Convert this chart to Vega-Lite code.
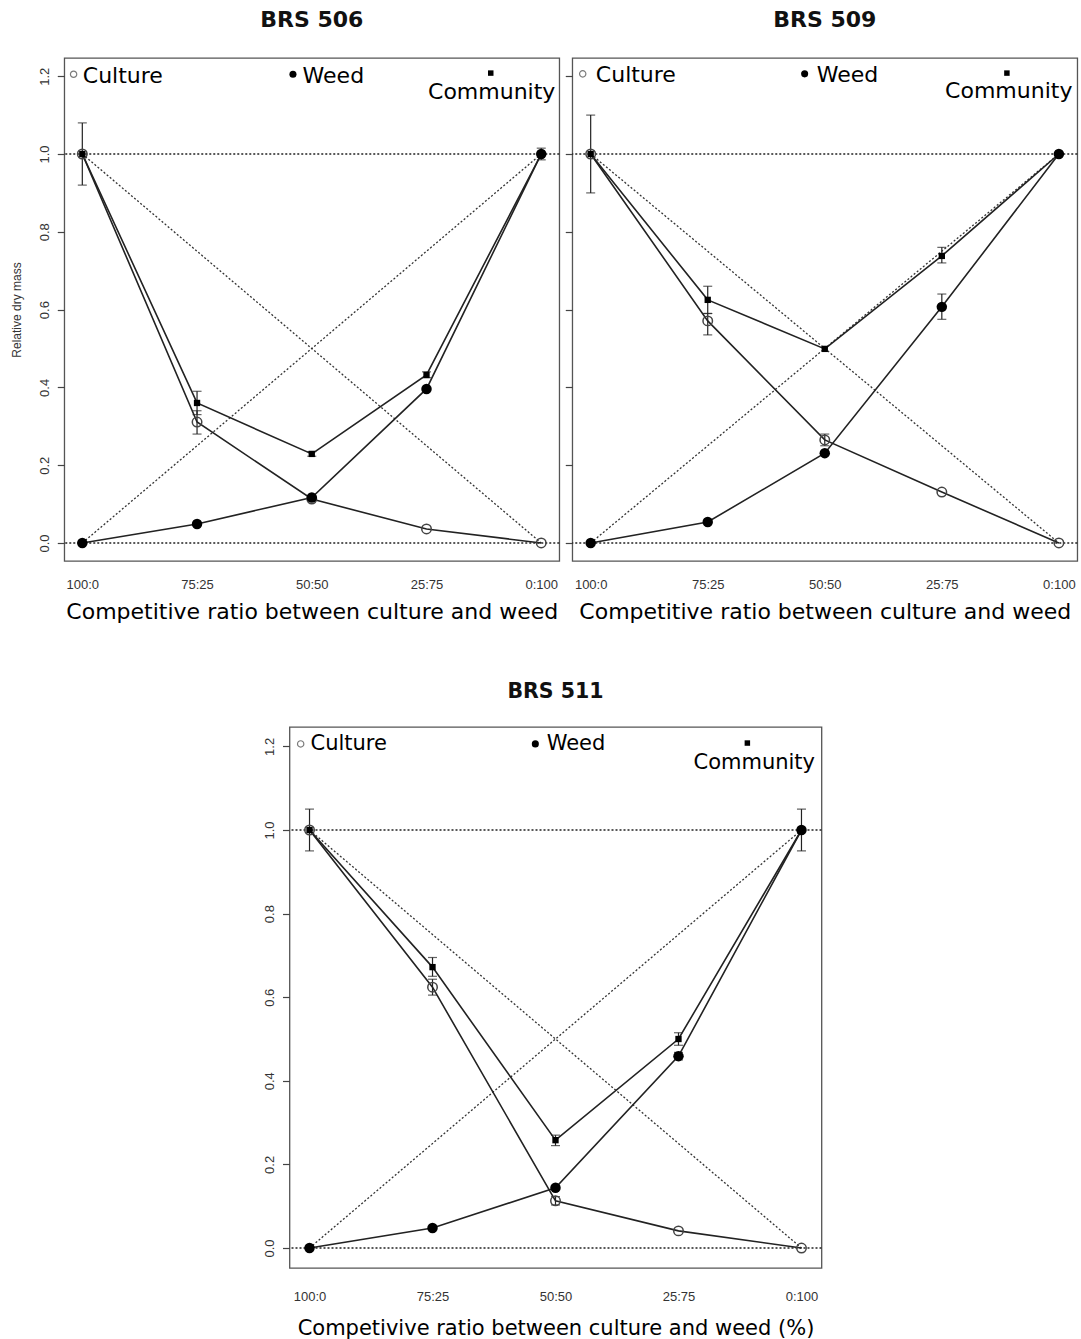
{
"$schema":"https://vega.github.io/schema/vega-lite/v6.json",
"background":"white",
"padding":{"left":9,"top":8,"right":2,"bottom":2},
"config":{
 "view":{"stroke":"#555","strokeWidth":1.3},
 "font":"DejaVu Sans",
 "title":{"font":"DejaVu Sans","fontSize":22,"fontWeight":"bold","color":"#111","baseline":"alphabetic","offset":26,"anchor":"middle"},
 "axisX":{"ticks":false,"domain":false,"grid":false,"labelPadding":17,"labelFont":"Liberation Sans","labelFontSize":13,"labelColor":"#333","labelFlush":false,"labelOverlap":false,"titleFont":"DejaVu Sans","titleFontSize":22,"titleFontWeight":"normal","titleColor":"#000","titlePadding":10},
 "axisY":{"tickSize":7,"tickColor":"#444","tickWidth":1.2,"domain":false,"grid":false,"labelAngle":270,"labelAlign":"center","labelBaseline":"bottom","labelPadding":6,"labelFont":"Liberation Sans","labelFontSize":13,"labelColor":"#333","labelFlush":false,"labelOverlap":false,"titleFont":"Liberation Sans","titleFontSize":12,"titleFontWeight":"normal","titleColor":"#333","titlePadding":15}
},
"datasets":{
 "ref":[{"culture":100,"v":1,"culture_end":0,"v_end":0},{"culture":100,"v":0,"culture_end":0,"v_end":1}],
 "pts":[
  {"panel":"BRS 506","series":"Culture","culture":100,"v":1.0},
  {"panel":"BRS 506","series":"Culture","culture":75,"v":0.311},
  {"panel":"BRS 506","series":"Culture","culture":50,"v":0.113},
  {"panel":"BRS 506","series":"Culture","culture":25,"v":0.036},
  {"panel":"BRS 506","series":"Culture","culture":0,"v":0.0},
  {"panel":"BRS 506","series":"Weed","culture":100,"v":0.0},
  {"panel":"BRS 506","series":"Weed","culture":75,"v":0.049},
  {"panel":"BRS 506","series":"Weed","culture":50,"v":0.117},
  {"panel":"BRS 506","series":"Weed","culture":25,"v":0.396},
  {"panel":"BRS 506","series":"Weed","culture":0,"v":1.0},
  {"panel":"BRS 506","series":"Community","culture":100,"v":1.0},
  {"panel":"BRS 506","series":"Community","culture":75,"v":0.36},
  {"panel":"BRS 506","series":"Community","culture":50,"v":0.229},
  {"panel":"BRS 506","series":"Community","culture":25,"v":0.432},
  {"panel":"BRS 506","series":"Community","culture":0,"v":1.0},
  {"panel":"BRS 509","series":"Culture","culture":100,"v":1.0},
  {"panel":"BRS 509","series":"Culture","culture":75,"v":0.571},
  {"panel":"BRS 509","series":"Culture","culture":50,"v":0.265},
  {"panel":"BRS 509","series":"Culture","culture":25,"v":0.131},
  {"panel":"BRS 509","series":"Culture","culture":0,"v":0.0},
  {"panel":"BRS 509","series":"Weed","culture":100,"v":0.0},
  {"panel":"BRS 509","series":"Weed","culture":75,"v":0.054},
  {"panel":"BRS 509","series":"Weed","culture":50,"v":0.231},
  {"panel":"BRS 509","series":"Weed","culture":25,"v":0.607},
  {"panel":"BRS 509","series":"Weed","culture":0,"v":1.0},
  {"panel":"BRS 509","series":"Community","culture":100,"v":1.0},
  {"panel":"BRS 509","series":"Community","culture":75,"v":0.625},
  {"panel":"BRS 509","series":"Community","culture":50,"v":0.499},
  {"panel":"BRS 509","series":"Community","culture":25,"v":0.738},
  {"panel":"BRS 509","series":"Community","culture":0,"v":1.0},
  {"panel":"BRS 511","series":"Culture","culture":100,"v":1.0},
  {"panel":"BRS 511","series":"Culture","culture":75,"v":0.624},
  {"panel":"BRS 511","series":"Culture","culture":50,"v":0.113},
  {"panel":"BRS 511","series":"Culture","culture":25,"v":0.041},
  {"panel":"BRS 511","series":"Culture","culture":0,"v":0.0},
  {"panel":"BRS 511","series":"Weed","culture":100,"v":0.0},
  {"panel":"BRS 511","series":"Weed","culture":75,"v":0.048},
  {"panel":"BRS 511","series":"Weed","culture":50,"v":0.144},
  {"panel":"BRS 511","series":"Weed","culture":25,"v":0.459},
  {"panel":"BRS 511","series":"Weed","culture":0,"v":1.0},
  {"panel":"BRS 511","series":"Community","culture":100,"v":1.0},
  {"panel":"BRS 511","series":"Community","culture":75,"v":0.672},
  {"panel":"BRS 511","series":"Community","culture":50,"v":0.258},
  {"panel":"BRS 511","series":"Community","culture":25,"v":0.5},
  {"panel":"BRS 511","series":"Community","culture":0,"v":1.0}
 ],
 "err":[
  {"panel":"BRS 506","series":"Culture","culture":100,"lo":0.92,"hi":1.08},
  {"panel":"BRS 506","series":"Culture","culture":75,"lo":0.28,"hi":0.34},
  {"panel":"BRS 506","series":"Community","culture":75,"lo":0.33,"hi":0.39},
  {"panel":"BRS 506","series":"Community","culture":50,"lo":0.223,"hi":0.235},
  {"panel":"BRS 506","series":"Community","culture":25,"lo":0.425,"hi":0.44},
  {"panel":"BRS 506","series":"Weed","culture":0,"lo":0.985,"hi":1.015},
  {"panel":"BRS 509","series":"Culture","culture":100,"lo":0.9,"hi":1.1},
  {"panel":"BRS 509","series":"Culture","culture":75,"lo":0.535,"hi":0.59},
  {"panel":"BRS 509","series":"Community","culture":75,"lo":0.59,"hi":0.66},
  {"panel":"BRS 509","series":"Culture","culture":50,"lo":0.25,"hi":0.28},
  {"panel":"BRS 509","series":"Weed","culture":25,"lo":0.575,"hi":0.64},
  {"panel":"BRS 509","series":"Community","culture":25,"lo":0.72,"hi":0.76},
  {"panel":"BRS 511","series":"Culture","culture":100,"lo":0.95,"hi":1.05},
  {"panel":"BRS 511","series":"Weed","culture":0,"lo":0.95,"hi":1.05},
  {"panel":"BRS 511","series":"Community","culture":75,"lo":0.65,"hi":0.695},
  {"panel":"BRS 511","series":"Culture","culture":75,"lo":0.605,"hi":0.643},
  {"panel":"BRS 511","series":"Community","culture":50,"lo":0.245,"hi":0.27},
  {"panel":"BRS 511","series":"Culture","culture":50,"lo":0.103,"hi":0.123},
  {"panel":"BRS 511","series":"Community","culture":25,"lo":0.485,"hi":0.515},
  {"panel":"BRS 511","series":"Weed","culture":25,"lo":0.45,"hi":0.468}
 ]
},
"spacing":57,
"center":true,
"vconcat":[
 {"hconcat":[
  {"title":{"text":"BRS 506"},"width":495,"height":503,
   "layer":[
    {"data":{"values":[{"v":0},{"v":1}]},"mark":{"type":"rule","strokeDash":[2,2],"strokeWidth":1.6,"color":"#222"},
     "encoding":{"y":{"field":"v","type":"quantitative","scale":{"domain":[-0.0463,1.2468],"nice":false,"zero":false},"axis":{"values":[0,0.2,0.4,0.6,0.8,1,1.2],"format":".1f","title":"Relative dry mass"}}}},
    {"data":{"name":"ref"},"mark":{"type":"rule","strokeDash":[2,2],"strokeWidth":1.3,"color":"#333"},
     "encoding":{"x":{"field":"culture","type":"quantitative","scale":{"domain":[-3.93,103.93],"reverse":true,"nice":false,"zero":false},"axis":{"values":[100,75,50,25,0],"labelExpr":"datum.value + ':' + (100 - datum.value)","title":"Competitive ratio between culture and weed"}},"x2":{"field":"culture_end"},
      "y":{"field":"v","type":"quantitative","scale":{"domain":[-0.0463,1.2468],"nice":false,"zero":false},"axis":{"values":[0,0.2,0.4,0.6,0.8,1,1.2],"format":".1f","title":"Relative dry mass"}},"y2":{"field":"v_end"}}},
    {"data":{"name":"pts"},"transform":[{"filter":"datum.panel === 'BRS 506'"}],"mark":{"type":"line","strokeWidth":1.6,"color":"#222"},
     "encoding":{"x":{"field":"culture","type":"quantitative","scale":{"domain":[-3.93,103.93],"reverse":true,"nice":false,"zero":false},"axis":{"values":[100,75,50,25,0],"labelExpr":"datum.value + ':' + (100 - datum.value)","title":"Competitive ratio between culture and weed"}},
      "y":{"field":"v","type":"quantitative","scale":{"domain":[-0.0463,1.2468],"nice":false,"zero":false},"axis":{"values":[0,0.2,0.4,0.6,0.8,1,1.2],"format":".1f","title":"Relative dry mass"}},"detail":{"field":"series"}}},
    {"data":{"name":"err"},"transform":[{"filter":"datum.panel === 'BRS 506'"}],"mark":{"type":"errorbar","color":"#222","thickness":1.2,"ticks":true,"size":9},
     "encoding":{"x":{"field":"culture","type":"quantitative","scale":{"domain":[-3.93,103.93],"reverse":true,"nice":false,"zero":false},"axis":{"values":[100,75,50,25,0],"labelExpr":"datum.value + ':' + (100 - datum.value)","title":"Competitive ratio between culture and weed"}},
      "y":{"field":"lo","type":"quantitative","scale":{"domain":[-0.0463,1.2468],"nice":false,"zero":false},"axis":{"values":[0,0.2,0.4,0.6,0.8,1,1.2],"format":".1f","title":"Relative dry mass"}},"y2":{"field":"hi"}}},
    {"data":{"name":"pts"},"transform":[{"filter":"datum.panel === 'BRS 506' && datum.series === 'Culture'"}],"mark":{"type":"point","shape":"circle","filled":false,"size":90,"strokeWidth":1.5,"color":"#444","opacity":1},
     "encoding":{"x":{"field":"culture","type":"quantitative","scale":{"domain":[-3.93,103.93],"reverse":true,"nice":false,"zero":false},"axis":{"values":[100,75,50,25,0],"labelExpr":"datum.value + ':' + (100 - datum.value)","title":"Competitive ratio between culture and weed"}},
      "y":{"field":"v","type":"quantitative","scale":{"domain":[-0.0463,1.2468],"nice":false,"zero":false},"axis":{"values":[0,0.2,0.4,0.6,0.8,1,1.2],"format":".1f","title":"Relative dry mass"}}}},
    {"data":{"name":"pts"},"transform":[{"filter":"datum.panel === 'BRS 506' && datum.series === 'Weed'"}],"mark":{"type":"point","shape":"circle","filled":true,"size":110,"color":"#000","opacity":1},
     "encoding":{"x":{"field":"culture","type":"quantitative","scale":{"domain":[-3.93,103.93],"reverse":true,"nice":false,"zero":false},"axis":{"values":[100,75,50,25,0],"labelExpr":"datum.value + ':' + (100 - datum.value)","title":"Competitive ratio between culture and weed"}},
      "y":{"field":"v","type":"quantitative","scale":{"domain":[-0.0463,1.2468],"nice":false,"zero":false},"axis":{"values":[0,0.2,0.4,0.6,0.8,1,1.2],"format":".1f","title":"Relative dry mass"}}}},
    {"data":{"name":"pts"},"transform":[{"filter":"datum.panel === 'BRS 506' && datum.series === 'Community'"}],"mark":{"type":"point","shape":"square","filled":true,"size":40,"color":"#000","opacity":1},
     "encoding":{"x":{"field":"culture","type":"quantitative","scale":{"domain":[-3.93,103.93],"reverse":true,"nice":false,"zero":false},"axis":{"values":[100,75,50,25,0],"labelExpr":"datum.value + ':' + (100 - datum.value)","title":"Competitive ratio between culture and weed"}},
      "y":{"field":"v","type":"quantitative","scale":{"domain":[-0.0463,1.2468],"nice":false,"zero":false},"axis":{"values":[0,0.2,0.4,0.6,0.8,1,1.2],"format":".1f","title":"Relative dry mass"}}}},
    {"data":{"values":[{}]},"mark":{"type":"point","shape":"circle","filled":false,"size":40,"strokeWidth":1.2,"color":"#444"},
     "encoding":{"x":{"datum":101.9,"type":"quantitative"},"y":{"datum":1.205,"type":"quantitative"}}},
    {"data":{"values":[{}]},"mark":{"type":"point","shape":"circle","filled":true,"size":50,"color":"#000","opacity":1},
     "encoding":{"x":{"datum":54.1,"type":"quantitative"},"y":{"datum":1.205,"type":"quantitative"}}},
    {"data":{"values":[{}]},"mark":{"type":"point","shape":"square","filled":true,"size":30,"color":"#000","opacity":1},
     "encoding":{"x":{"datum":11,"type":"quantitative"},"y":{"datum":1.208,"type":"quantitative"}}},
    {"data":{"values":[{}]},"mark":{"type":"text","text":"Culture","align":"left","baseline":"middle","fontSize":22,"font":"DejaVu Sans","color":"#000"},
     "encoding":{"x":{"datum":99.9,"type":"quantitative"},"y":{"datum":1.2,"type":"quantitative"}}},
    {"data":{"values":[{}]},"mark":{"type":"text","text":"Weed","align":"left","baseline":"middle","fontSize":22,"font":"DejaVu Sans","color":"#000"},
     "encoding":{"x":{"datum":52,"type":"quantitative"},"y":{"datum":1.2,"type":"quantitative"}}},
    {"data":{"values":[{}]},"mark":{"type":"text","text":"Community","align":"center","baseline":"middle","fontSize":22,"font":"DejaVu Sans","color":"#000"},
     "encoding":{"x":{"datum":10.8,"type":"quantitative"},"y":{"datum":1.16,"type":"quantitative"}}}
   ]},
  {"title":{"text":"BRS 509"},"width":505,"height":503,
   "layer":[
    {"data":{"values":[{"v":0},{"v":1}]},"mark":{"type":"rule","strokeDash":[2,2],"strokeWidth":1.6,"color":"#222"},
     "encoding":{"y":{"field":"v","type":"quantitative","scale":{"domain":[-0.0463,1.2468],"nice":false,"zero":false},"axis":{"values":[0,0.2,0.4,0.6,0.8,1,1.2],"labels":false,"title":null}}}},
    {"data":{"name":"ref"},"mark":{"type":"rule","strokeDash":[2,2],"strokeWidth":1.3,"color":"#333"},
     "encoding":{"x":{"field":"culture","type":"quantitative","scale":{"domain":[-3.93,103.93],"reverse":true,"nice":false,"zero":false},"axis":{"values":[100,75,50,25,0],"labelExpr":"datum.value + ':' + (100 - datum.value)","title":"Competitive ratio between culture and weed"}},"x2":{"field":"culture_end"},
      "y":{"field":"v","type":"quantitative","scale":{"domain":[-0.0463,1.2468],"nice":false,"zero":false},"axis":{"values":[0,0.2,0.4,0.6,0.8,1,1.2],"labels":false,"title":null}},"y2":{"field":"v_end"}}},
    {"data":{"name":"pts"},"transform":[{"filter":"datum.panel === 'BRS 509'"}],"mark":{"type":"line","strokeWidth":1.6,"color":"#222"},
     "encoding":{"x":{"field":"culture","type":"quantitative","scale":{"domain":[-3.93,103.93],"reverse":true,"nice":false,"zero":false},"axis":{"values":[100,75,50,25,0],"labelExpr":"datum.value + ':' + (100 - datum.value)","title":"Competitive ratio between culture and weed"}},
      "y":{"field":"v","type":"quantitative","scale":{"domain":[-0.0463,1.2468],"nice":false,"zero":false},"axis":{"values":[0,0.2,0.4,0.6,0.8,1,1.2],"labels":false,"title":null}},"detail":{"field":"series"}}},
    {"data":{"name":"err"},"transform":[{"filter":"datum.panel === 'BRS 509'"}],"mark":{"type":"errorbar","color":"#222","thickness":1.2,"ticks":true,"size":9},
     "encoding":{"x":{"field":"culture","type":"quantitative","scale":{"domain":[-3.93,103.93],"reverse":true,"nice":false,"zero":false},"axis":{"values":[100,75,50,25,0],"labelExpr":"datum.value + ':' + (100 - datum.value)","title":"Competitive ratio between culture and weed"}},
      "y":{"field":"lo","type":"quantitative","scale":{"domain":[-0.0463,1.2468],"nice":false,"zero":false},"axis":{"values":[0,0.2,0.4,0.6,0.8,1,1.2],"labels":false,"title":null}},"y2":{"field":"hi"}}},
    {"data":{"name":"pts"},"transform":[{"filter":"datum.panel === 'BRS 509' && datum.series === 'Culture'"}],"mark":{"type":"point","shape":"circle","filled":false,"size":90,"strokeWidth":1.5,"color":"#444","opacity":1},
     "encoding":{"x":{"field":"culture","type":"quantitative","scale":{"domain":[-3.93,103.93],"reverse":true,"nice":false,"zero":false},"axis":{"values":[100,75,50,25,0],"labelExpr":"datum.value + ':' + (100 - datum.value)","title":"Competitive ratio between culture and weed"}},
      "y":{"field":"v","type":"quantitative","scale":{"domain":[-0.0463,1.2468],"nice":false,"zero":false},"axis":{"values":[0,0.2,0.4,0.6,0.8,1,1.2],"labels":false,"title":null}}}},
    {"data":{"name":"pts"},"transform":[{"filter":"datum.panel === 'BRS 509' && datum.series === 'Weed'"}],"mark":{"type":"point","shape":"circle","filled":true,"size":110,"color":"#000","opacity":1},
     "encoding":{"x":{"field":"culture","type":"quantitative","scale":{"domain":[-3.93,103.93],"reverse":true,"nice":false,"zero":false},"axis":{"values":[100,75,50,25,0],"labelExpr":"datum.value + ':' + (100 - datum.value)","title":"Competitive ratio between culture and weed"}},
      "y":{"field":"v","type":"quantitative","scale":{"domain":[-0.0463,1.2468],"nice":false,"zero":false},"axis":{"values":[0,0.2,0.4,0.6,0.8,1,1.2],"labels":false,"title":null}}}},
    {"data":{"name":"pts"},"transform":[{"filter":"datum.panel === 'BRS 509' && datum.series === 'Community'"}],"mark":{"type":"point","shape":"square","filled":true,"size":40,"color":"#000","opacity":1},
     "encoding":{"x":{"field":"culture","type":"quantitative","scale":{"domain":[-3.93,103.93],"reverse":true,"nice":false,"zero":false},"axis":{"values":[100,75,50,25,0],"labelExpr":"datum.value + ':' + (100 - datum.value)","title":"Competitive ratio between culture and weed"}},
      "y":{"field":"v","type":"quantitative","scale":{"domain":[-0.0463,1.2468],"nice":false,"zero":false},"axis":{"values":[0,0.2,0.4,0.6,0.8,1,1.2],"labels":false,"title":null}}}},
    {"data":{"values":[{}]},"mark":{"type":"point","shape":"circle","filled":false,"size":40,"strokeWidth":1.2,"color":"#444"},
     "encoding":{"x":{"datum":101.7,"type":"quantitative"},"y":{"datum":1.206,"type":"quantitative"}}},
    {"data":{"values":[{}]},"mark":{"type":"point","shape":"circle","filled":true,"size":50,"color":"#000","opacity":1},
     "encoding":{"x":{"datum":54.3,"type":"quantitative"},"y":{"datum":1.206,"type":"quantitative"}}},
    {"data":{"values":[{}]},"mark":{"type":"point","shape":"square","filled":true,"size":30,"color":"#000","opacity":1},
     "encoding":{"x":{"datum":11.1,"type":"quantitative"},"y":{"datum":1.208,"type":"quantitative"}}},
    {"data":{"values":[{}]},"mark":{"type":"text","text":"Culture","align":"left","baseline":"middle","fontSize":22,"font":"DejaVu Sans","color":"#000"},
     "encoding":{"x":{"datum":98.9,"type":"quantitative"},"y":{"datum":1.203,"type":"quantitative"}}},
    {"data":{"values":[{}]},"mark":{"type":"text","text":"Weed","align":"left","baseline":"middle","fontSize":22,"font":"DejaVu Sans","color":"#000"},
     "encoding":{"x":{"datum":51.7,"type":"quantitative"},"y":{"datum":1.203,"type":"quantitative"}}},
    {"data":{"values":[{}]},"mark":{"type":"text","text":"Community","align":"center","baseline":"middle","fontSize":22,"font":"DejaVu Sans","color":"#000"},
     "encoding":{"x":{"datum":10.7,"type":"quantitative"},"y":{"datum":1.162,"type":"quantitative"}}}
   ]}
 ],"spacing":2},
 {"hconcat":[
 {"title":{"text":"BRS 511","fontSize":20.5,"offset":25},"width":532,"height":541,
   "layer":[
    {"data":{"values":[{"v":0},{"v":1}]},"mark":{"type":"rule","strokeDash":[2,2],"strokeWidth":1.6,"color":"#222"},
     "encoding":{"y":{"field":"v","type":"quantitative","scale":{"domain":[-0.0478,1.2464],"nice":false,"zero":false},"axis":{"values":[0,0.2,0.4,0.6,0.8,1,1.2],"format":".1f","title":null}}}},
    {"data":{"name":"ref"},"mark":{"type":"rule","strokeDash":[2,2],"strokeWidth":1.3,"color":"#333"},
     "encoding":{"x":{"field":"culture","type":"quantitative","scale":{"domain":[-4.07,104.07],"reverse":true,"nice":false,"zero":false},"axis":{"values":[100,75,50,25,0],"labelExpr":"datum.value + ':' + (100 - datum.value)","title":"Competivive ratio between culture and weed (%)","titleFontSize":21,"labelPadding":22,"titlePadding":14}},"x2":{"field":"culture_end"},
      "y":{"field":"v","type":"quantitative","scale":{"domain":[-0.0478,1.2464],"nice":false,"zero":false},"axis":{"values":[0,0.2,0.4,0.6,0.8,1,1.2],"format":".1f","title":null}},"y2":{"field":"v_end"}}},
    {"data":{"name":"pts"},"transform":[{"filter":"datum.panel === 'BRS 511'"}],"mark":{"type":"line","strokeWidth":1.6,"color":"#222"},
     "encoding":{"x":{"field":"culture","type":"quantitative","scale":{"domain":[-4.07,104.07],"reverse":true,"nice":false,"zero":false},"axis":{"values":[100,75,50,25,0],"labelExpr":"datum.value + ':' + (100 - datum.value)","title":"Competivive ratio between culture and weed (%)","titleFontSize":21,"labelPadding":22,"titlePadding":14}},
      "y":{"field":"v","type":"quantitative","scale":{"domain":[-0.0478,1.2464],"nice":false,"zero":false},"axis":{"values":[0,0.2,0.4,0.6,0.8,1,1.2],"format":".1f","title":null}},"detail":{"field":"series"}}},
    {"data":{"name":"err"},"transform":[{"filter":"datum.panel === 'BRS 511'"}],"mark":{"type":"errorbar","color":"#222","thickness":1.2,"ticks":true,"size":9},
     "encoding":{"x":{"field":"culture","type":"quantitative","scale":{"domain":[-4.07,104.07],"reverse":true,"nice":false,"zero":false},"axis":{"values":[100,75,50,25,0],"labelExpr":"datum.value + ':' + (100 - datum.value)","title":"Competivive ratio between culture and weed (%)","titleFontSize":21,"labelPadding":22,"titlePadding":14}},
      "y":{"field":"lo","type":"quantitative","scale":{"domain":[-0.0478,1.2464],"nice":false,"zero":false},"axis":{"values":[0,0.2,0.4,0.6,0.8,1,1.2],"format":".1f","title":null}},"y2":{"field":"hi"}}},
    {"data":{"name":"pts"},"transform":[{"filter":"datum.panel === 'BRS 511' && datum.series === 'Culture'"}],"mark":{"type":"point","shape":"circle","filled":false,"size":90,"strokeWidth":1.5,"color":"#444","opacity":1},
     "encoding":{"x":{"field":"culture","type":"quantitative","scale":{"domain":[-4.07,104.07],"reverse":true,"nice":false,"zero":false},"axis":{"values":[100,75,50,25,0],"labelExpr":"datum.value + ':' + (100 - datum.value)","title":"Competivive ratio between culture and weed (%)","titleFontSize":21,"labelPadding":22,"titlePadding":14}},
      "y":{"field":"v","type":"quantitative","scale":{"domain":[-0.0478,1.2464],"nice":false,"zero":false},"axis":{"values":[0,0.2,0.4,0.6,0.8,1,1.2],"format":".1f","title":null}}}},
    {"data":{"name":"pts"},"transform":[{"filter":"datum.panel === 'BRS 511' && datum.series === 'Weed'"}],"mark":{"type":"point","shape":"circle","filled":true,"size":110,"color":"#000","opacity":1},
     "encoding":{"x":{"field":"culture","type":"quantitative","scale":{"domain":[-4.07,104.07],"reverse":true,"nice":false,"zero":false},"axis":{"values":[100,75,50,25,0],"labelExpr":"datum.value + ':' + (100 - datum.value)","title":"Competivive ratio between culture and weed (%)","titleFontSize":21,"labelPadding":22,"titlePadding":14}},
      "y":{"field":"v","type":"quantitative","scale":{"domain":[-0.0478,1.2464],"nice":false,"zero":false},"axis":{"values":[0,0.2,0.4,0.6,0.8,1,1.2],"format":".1f","title":null}}}},
    {"data":{"name":"pts"},"transform":[{"filter":"datum.panel === 'BRS 511' && datum.series === 'Community'"}],"mark":{"type":"point","shape":"square","filled":true,"size":40,"color":"#000","opacity":1},
     "encoding":{"x":{"field":"culture","type":"quantitative","scale":{"domain":[-4.07,104.07],"reverse":true,"nice":false,"zero":false},"axis":{"values":[100,75,50,25,0],"labelExpr":"datum.value + ':' + (100 - datum.value)","title":"Competivive ratio between culture and weed (%)","titleFontSize":21,"labelPadding":22,"titlePadding":14}},
      "y":{"field":"v","type":"quantitative","scale":{"domain":[-0.0478,1.2464],"nice":false,"zero":false},"axis":{"values":[0,0.2,0.4,0.6,0.8,1,1.2],"format":".1f","title":null}}}},
    {"data":{"values":[{}]},"mark":{"type":"point","shape":"circle","filled":false,"size":40,"strokeWidth":1.2,"color":"#444"},
     "encoding":{"x":{"datum":101.8,"type":"quantitative"},"y":{"datum":1.206,"type":"quantitative"}}},
    {"data":{"values":[{}]},"mark":{"type":"point","shape":"circle","filled":true,"size":50,"color":"#000","opacity":1},
     "encoding":{"x":{"datum":54.1,"type":"quantitative"},"y":{"datum":1.206,"type":"quantitative"}}},
    {"data":{"values":[{}]},"mark":{"type":"point","shape":"square","filled":true,"size":30,"color":"#000","opacity":1},
     "encoding":{"x":{"datum":11,"type":"quantitative"},"y":{"datum":1.208,"type":"quantitative"}}},
    {"data":{"values":[{}]},"mark":{"type":"text","text":"Culture","align":"left","baseline":"middle","fontSize":21,"font":"DejaVu Sans","color":"#000"},
     "encoding":{"x":{"datum":99.8,"type":"quantitative"},"y":{"datum":1.206,"type":"quantitative"}}},
    {"data":{"values":[{}]},"mark":{"type":"text","text":"Weed","align":"left","baseline":"middle","fontSize":21,"font":"DejaVu Sans","color":"#000"},
     "encoding":{"x":{"datum":51.8,"type":"quantitative"},"y":{"datum":1.206,"type":"quantitative"}}},
    {"data":{"values":[{}]},"mark":{"type":"text","text":"Community","align":"center","baseline":"middle","fontSize":21,"font":"DejaVu Sans","color":"#000"},
     "encoding":{"x":{"datum":9.6,"type":"quantitative"},"y":{"datum":1.16,"type":"quantitative"}}}
   ]},
 {"width":30,"height":10,"data":{"values":[{}]},"mark":{"type":"point","opacity":0},"view":{"stroke":null}}
 ],"spacing":0}
]
}
